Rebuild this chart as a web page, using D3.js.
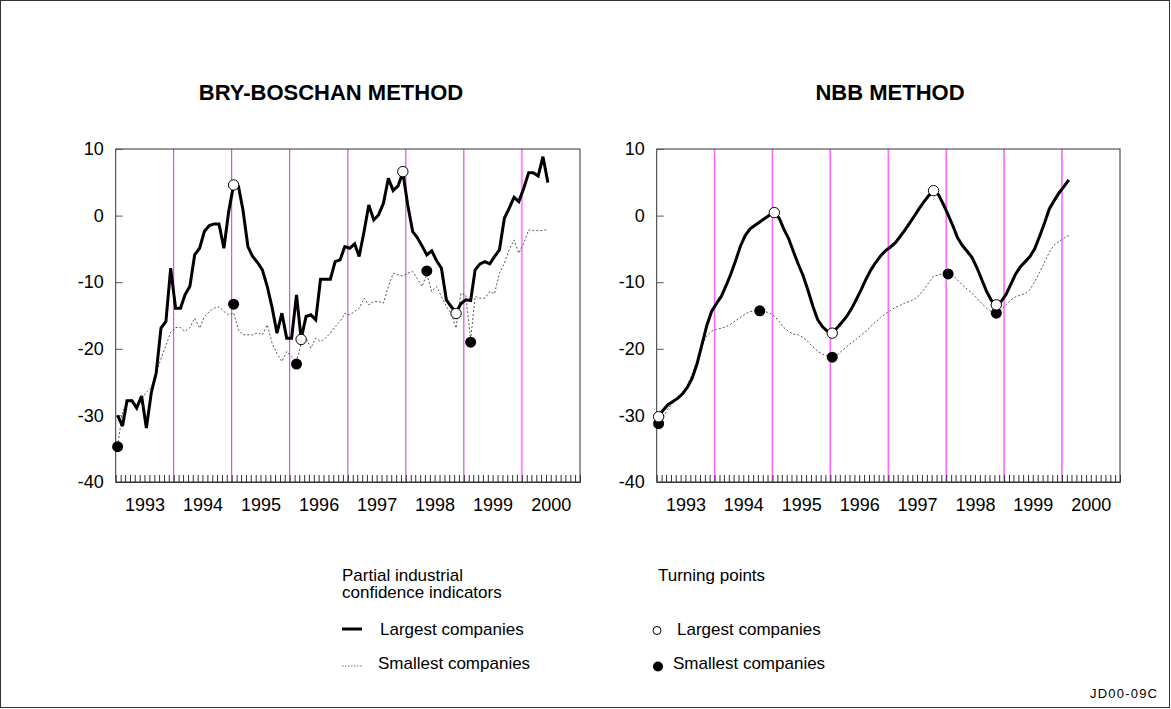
<!DOCTYPE html>
<html><head><meta charset="utf-8">
<script src="https://cdn.jsdelivr.net/npm/d3@7"></script>
<style>
body{margin:0;background:#fff}
svg{display:block}
text{font-family:"Liberation Sans",Arial,Helvetica,sans-serif;fill:#000}
</style>
</head><body>
<svg id="c" width="1171" height="709"></svg>
<script>
// ---------- DATA ----------
const yearLabels = [1993,1994,1995,1996,1997,1998,1999,2000];
const yTickValues = [-40,-30,-20,-10,0,10];
const refYears = [1994,1995,1996,1997,1998,1999,2000];

// Bry-Boschan method, monthly from Jan 1993
const bbLargest = [-30.0,-31.6,-27.8,-27.8,-28.9,-27.1,-31.9,-26.6,-23.6,-16.9,
  -15.9,-7.9,-13.9,-13.9,-11.9,-10.6,-5.9,-4.9,-2.4,-1.5,
  -1.25,-1.25,-4.9,0.6,4.6,4.35,0.85,-4.65,-6.15,-7.05,
  -8.15,-10.65,-13.9,-17.65,-14.65,-18.4,-18.4,-11.9,-18.5,-15.15,
  -14.9,-15.65,-9.55,-9.55,-9.55,-6.9,-6.65,-4.65,-4.9,-4.25,
  -6.15,-2.4,1.6,-0.65,0.1,1.85,5.6,3.75,4.45,6.5,
  1.6,-2.4,-3.25,-4.55,-5.9,-5.3,-6.75,-7.9,-12.65,-13.65,
  -14.6,-13.25,-12.65,-12.75,-8.15,-7.25,-6.9,-7.25,-6.15,-5.15,
  -0.4,1.1,2.75,2.1,4.1,6.45,6.45,5.95,8.85,4.95];
const bbSmallest = [-34.6,-29.5,-28.0,-27.5,-28.5,-27.5,-26.5,-25.8,-23.5,-21.5,
  -19.5,-17.5,-16.8,-16.8,-17.4,-16.8,-15.4,-16.9,-15.2,-14.4,
  -13.9,-13.7,-14.4,-14.9,-14.6,-17.2,-17.9,-17.9,-17.9,-17.6,
  -17.9,-16.4,-19.2,-20.7,-21.9,-20.4,-21.15,-22.0,-19.15,-18.4,
  -19.9,-18.4,-18.9,-18.4,-17.65,-16.65,-15.9,-14.65,-14.9,-14.4,
  -13.9,-12.4,-13.4,-12.9,-12.9,-13.15,-10.65,-8.65,-8.9,-9.05,
  -8.65,-8.4,-9.4,-10.65,-8.8,-11.4,-10.65,-12.15,-13.65,-14.65,
  -16.9,-11.65,-11.9,-18.6,-12.15,-12.4,-12.4,-11.4,-11.75,-8.65,
  -7.15,-5.15,-3.65,-5.65,-4.15,-2.15,-2.25,-2.25,-2.25,-2.05];
const bbLargestTPMonths = [24,38,59,70];
const bbLargestTPValues = [4.6,-18.6,6.6,-14.7];
const bbSmallestTPMonths = [0,24,37,64,73];
const bbSmallestTPValues = [-34.7,-13.3,-22.3,-8.3,-19.0];

// NBB method, monthly from Jan 1993
const nbbLargest = [-30.1,-29.15,-28.4,-27.9,-27.45,-26.75,-25.8,-24.4,-22.2,-19.4,
  -16.5,-14.4,-13.2,-12.1,-10.6,-8.8,-6.8,-4.6,-3.0,-2.0,
  -1.45,-0.95,-0.45,0.05,0.45,-0.4,-2.0,-3.45,-5.4,-7.3,
  -9.0,-11.2,-13.6,-15.6,-16.7,-17.35,-17.65,-16.85,-16.05,-15.15,
  -14.0,-12.6,-11.15,-9.55,-8.15,-7.05,-6.05,-5.3,-4.75,-4.1,
  -3.25,-2.25,-1.2,-0.1,1.0,2.05,3.0,3.7,3.15,1.75,
  0.1,-1.6,-3.3,-4.5,-5.35,-6.3,-7.8,-9.6,-11.4,-12.75,
  -13.35,-12.9,-11.85,-10.3,-8.85,-7.7,-6.95,-6.15,-5.0,-3.1,
  -1.1,1.0,2.25,3.4,4.35,5.35];
const nbbSmallest = [-31.25,-30.2,-29.0,-28.1,-27.4,-26.7,-25.5,-23.8,-21.8,-19.6,
  -18.0,-17.35,-17.1,-16.9,-16.7,-16.3,-15.8,-15.3,-14.8,-14.4,
  -14.3,-14.3,-14.4,-14.6,-15.1,-15.9,-16.8,-17.4,-17.8,-17.9,
  -18.3,-18.9,-19.7,-20.4,-20.8,-21.05,-21.25,-20.95,-20.3,-19.7,
  -19.1,-18.55,-17.95,-17.35,-16.65,-15.95,-15.3,-14.75,-14.25,-13.8,
  -13.5,-13.15,-12.9,-12.55,-12.0,-11.1,-10.05,-9.1,-8.9,-8.7,
  -8.75,-9.05,-9.65,-10.4,-11.05,-11.65,-12.4,-13.2,-13.9,-14.45,
  -14.65,-14.15,-13.4,-12.65,-12.2,-11.95,-11.7,-11.1,-9.95,-8.5,
  -7.0,-5.5,-4.4,-3.9,-3.4,-3.0];
const nbbLargestTPMonths = [0,24,36,57,70];
const nbbLargestTPValues = [-30.2,0.45,-17.65,3.75,-13.4];
const nbbSmallestTPMonths = [0,21,36,60,70];
const nbbSmallestTPValues = [-31.25,-14.3,-21.25,-8.75,-14.65];

// ---------- DRAW ----------
const svg = d3.select("#c");
svg.append("rect").attr("x",0.5).attr("y",0.5).attr("width",1169).attr("height",707)
  .attr("fill","none").attr("stroke","#333").attr("stroke-width",1);

const monthDate = i => new Date(1993, i, 13);
const plotTop = 149, plotBottom = 482;

function panel(cfg){
  const x = d3.scaleTime().domain([new Date(1993,0,1), new Date(2001,0,1)]).range([cfg.x0, cfg.x1]);
  const y = d3.scaleLinear().domain([-40,10]).range([plotBottom, plotTop]);
  const g = svg.append("g");

  g.append("text").attr("x",cfg.titleX).attr("y",100).attr("text-anchor","middle")
    .style("font-size","22px").style("font-weight","bold").text(cfg.title);

  g.selectAll("line.ref").data(refYears).enter().append("line")
    .attr("x1",d=>x(new Date(d,0,1))).attr("x2",d=>x(new Date(d,0,1)))
    .attr("y1",plotTop).attr("y2",plotBottom)
    .attr("stroke",(d,i)=>cfg.refColor(d,i)).attr("stroke-width",(d,i)=>cfg.refWidth(d,i));

  g.append("rect").attr("x",cfg.x0).attr("y",plotTop).attr("width",cfg.x1-cfg.x0).attr("height",plotBottom-plotTop)
    .attr("fill","none").attr("stroke","#333").attr("stroke-width",1);

  const ya = g.append("g").attr("transform",`translate(${cfg.x0},0)`)
    .call(d3.axisLeft(y).tickValues(yTickValues).tickSize(-7).tickPadding(12).tickFormat(d=>String(d)));
  ya.select(".domain").remove();
  ya.selectAll(".tick line").attr("stroke","#555");
  ya.selectAll("text").style("font-size","18px").attr("fill","#000");

  const monthTicks = d3.range(1,96).map(i=>new Date(1993,i,1));
  const xa = g.append("g").attr("transform",`translate(0,${plotBottom})`)
    .call(d3.axisBottom(x).tickValues(monthTicks).tickSize(-7).tickFormat(""));
  xa.select(".domain").attr("stroke","#333");
  xa.selectAll(".tick line").attr("stroke","#333");

  const xl = g.append("g").attr("transform",`translate(0,${plotBottom})`)
    .call(d3.axisBottom(x).tickValues(yearLabels.map(yv=>new Date(yv,6,1))).tickSize(0).tickPadding(16)
      .tickFormat(d=>d.getFullYear()));
  xl.select(".domain").remove();
  xl.selectAll("text").style("font-size","18px").attr("fill","#000");

  const line = d3.line().x((d,i)=>x(monthDate(i))).y(d=>y(d));
  g.append("path").datum(cfg.small).attr("d",line).attr("fill","none")
    .attr("stroke","#555").attr("stroke-width",1).attr("stroke-dasharray","2,2");
  g.append("path").datum(cfg.large).attr("d",line).attr("fill","none")
    .attr("stroke","#000").attr("stroke-width",3).attr("stroke-linejoin","miter").attr("stroke-miterlimit",3);

  g.selectAll("circle.sm").data(cfg.smTPm).enter().append("circle")
    .attr("cx",d=>x(monthDate(d))).attr("cy",(d,i)=>y(cfg.smTPv[i])).attr("r",5.5).attr("fill","#000");
  g.selectAll("circle.lg").data(cfg.lgTPm).enter().append("circle")
    .attr("cx",d=>x(monthDate(d))).attr("cy",(d,i)=>y(cfg.lgTPv[i])).attr("r",5.2)
    .attr("fill","#fff").attr("stroke","#000").attr("stroke-width",1);
}

panel({x0:115.7, x1:580, titleX:331, title:"BRY-BOSCHAN METHOD",
  large:bbLargest, small:bbSmallest,
  lgTPm:bbLargestTPMonths, lgTPv:bbLargestTPValues, smTPm:bbSmallestTPMonths, smTPv:bbSmallestTPValues,
  refColor:(d,i)=> i===refYears.length-1 ? "#ff88ff" : "#cc33cc",
  refWidth:(d,i)=> i===refYears.length-1 ? 2 : 1});
panel({x0:656.7, x1:1120, titleX:890, title:"NBB METHOD",
  large:nbbLargest, small:nbbSmallest,
  lgTPm:nbbLargestTPMonths, lgTPv:nbbLargestTPValues, smTPm:nbbSmallestTPMonths, smTPv:nbbSmallestTPValues,
  refColor:()=>"#ff66ff", refWidth:()=>1.6});

// ---------- LEGEND ----------
const lg = svg.append("g").style("font-size","17px");
lg.append("text").attr("x",342).attr("y",581).text("Partial industrial");
lg.append("text").attr("x",342).attr("y",598).text("confidence indicators");
lg.append("line").attr("x1",342).attr("x2",362).attr("y1",629).attr("y2",629).attr("stroke","#000").attr("stroke-width",3);
lg.append("text").attr("x",380).attr("y",635).text("Largest companies");
lg.append("line").attr("x1",342).attr("x2",362).attr("y1",666).attr("y2",666).attr("stroke","#777").attr("stroke-width",1).attr("stroke-dasharray","1.5,1.5");
lg.append("text").attr("x",378).attr("y",669).text("Smallest companies");

lg.append("text").attr("x",658).attr("y",581).text("Turning points");
lg.append("circle").attr("cx",657).attr("cy",630.5).attr("r",4).attr("fill","#fff").attr("stroke","#000").attr("stroke-width",1);
lg.append("text").attr("x",677).attr("y",635).text("Largest companies");
lg.append("circle").attr("cx",658).attr("cy",666.5).attr("r",5).attr("fill","#000");
lg.append("text").attr("x",673).attr("y",669).text("Smallest companies");

svg.append("text").attr("x",1090).attr("y",698)
  .style("font-size","13px").attr("textLength",67).attr("lengthAdjust","spacing").text("JD00-09C");
</script>
</body></html>
